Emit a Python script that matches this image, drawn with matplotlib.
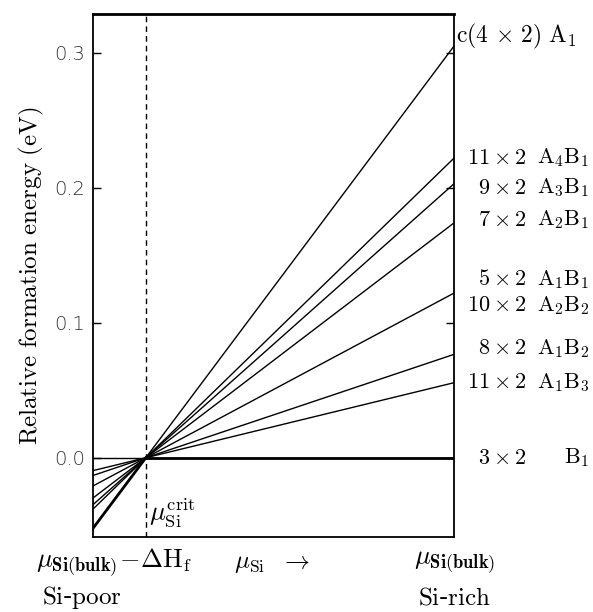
import numpy as np
import matplotlib.pyplot as plt

plt.rcParams['mathtext.fontset'] = 'cm'

# surface reconstructions and their relative formation energy at mu_Si = mu_Si(bulk) (eV)
structures = ['c(4x2) A1', '11x2 A4B1', '9x2 A3B1', '7x2 A2B1', '5x2 A1B1',
              '8x2 A1B2', '11x2 A1B3', '3x2 B1']
energy_rich = [0.305, 0.222, 0.203, 0.174, 0.122, 0.0766, 0.0556, 0.0]

# x axis runs from Si-poor (0) to Si-rich (1); all lines cross at mu_crit
x_crit = 0.146

# right-hand labels: (size part, composition part, label y)
label_size = ['11\\times2', '9\\times2', '7\\times2', '5\\times2', '10\\times2',
              '8\\times2', '11\\times2', '3\\times2']
label_comp = ['A_4B_1', 'A_3B_1', 'A_2B_1', 'A_1B_1', 'A_2B_2', 'A_1B_2', 'A_1B_3', 'B_1']
label_y = [0.222, 0.200, 0.176, 0.132, 0.113, 0.081, 0.056, 0.0]

fig = plt.figure(figsize=(5.93, 6.12), dpi=100)
ax = fig.add_axes([0.157, 0.1225, 0.609, 0.855])

x = np.array([0.0, 1.0])
for e in energy_rich:
    slope = e / (1 - x_crit)
    ax.plot(x, slope * (x - x_crit), color='black', lw=1.0)

# lower envelope (most stable phase) drawn thick
xl = np.array([0.0, x_crit])
ax.plot(xl, energy_rich[0] / (1 - x_crit) * (xl - x_crit), color='black', lw=2.0)
ax.plot([x_crit, 1.0], [0, 0], color='black', lw=2.0)

ax.axvline(x_crit, color='black', lw=1.0, ls=(0, (4, 3)))

ax.set_xlim(0, 1)
ax.set_ylim(-0.0587, 0.3287)
ax.set_xticks([])
ax.set_yticks([0.0, 0.1, 0.2, 0.3])
ax.set_yticklabels(['0.0', '0.1', '0.2', '0.3'], fontsize=14, family='DejaVu Sans',
                   fontweight='light', color='#333333')
ax.tick_params(axis='y', direction='in', length=6, width=1, right=True, pad=6)
for s in ax.spines.values():
    s.set_linewidth(1.3)
ax.spines['top'].set_linewidth(2.0)

ax.set_ylabel(r'$\mathrm{Relative\ formation\ energy\ (eV)}$', fontsize=18, labelpad=6)

ty = ax.get_yaxis_transform()
ax.text(1.006, 0.312, r'$\mathrm{c(4\,\times\,2)\ A_1}$', transform=ty, fontsize=17,
        ha='left', va='center', clip_on=False)
for sz, comp, yy in zip(label_size, label_comp, label_y):
    ax.text(1.20, yy, r'$%s$' % sz, transform=ty, fontsize=16, ha='right', va='center')
    ax.text(1.375, yy, r'$\mathrm{%s}$' % comp, transform=ty, fontsize=16,
            ha='right', va='center')

ax.text(x_crit + 0.01, -0.053, r'$\mu_{\mathrm{Si}}^{\mathrm{crit}}$', fontsize=19,
        ha='left', va='bottom')

tx = ax.get_xaxis_transform()
ax.text(0.058, -0.05, r'$\mu_{\mathbf{Si(bulk)}}\!-\!\Delta\mathrm{H_f}$', transform=tx,
        fontsize=19, ha='center', va='center')
ax.text(0.496, -0.05, r'$\mu_{\mathrm{Si}}\ \ \rightarrow$', transform=tx,
        fontsize=18, ha='center', va='center')
ax.text(1.0, -0.05, r'$\mu_{\mathbf{Si(bulk)}}$', transform=tx,
        fontsize=19, ha='center', va='center')
ax.text(-0.03, -0.115, r'$\mathrm{Si}$-$\mathrm{poor}$', transform=tx,
        fontsize=18, ha='center', va='center')
ax.text(1.0, -0.115, r'$\mathrm{Si}$-$\mathrm{rich}$', transform=tx,
        fontsize=18, ha='center', va='center')

fig.savefig('out.png', dpi=100)
